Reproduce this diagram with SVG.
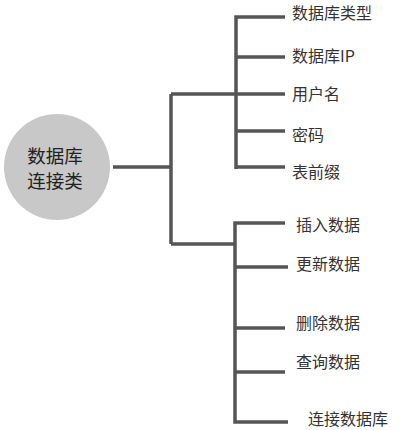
<svg xmlns="http://www.w3.org/2000/svg" width="400" height="430" viewBox="0 0 400 430">
<style>
.c{fill:none;stroke:#555;stroke-width:3.5;stroke-linejoin:miter;stroke-linecap:butt}
.l{font-family:"Noto Sans CJK SC","Noto Sans",sans-serif;font-size:16px;fill:#333;dominant-baseline:central}
.t{font-family:"Noto Sans CJK SC","Noto Sans",sans-serif;font-size:18.5px;fill:#222;text-anchor:middle}
</style>
<rect width="400" height="430" fill="#fff"/>
<g id="connectors">
<path class="c" d="M113 167H171M171 94V244M171 94H285M171 244H236"/>
<path class="c" d="M285 17H236V169M236 57H285M236 131H285M236 167H285"/>
<path class="c" d="M285 223H235V422H288M235 267H288M235 328H285M235 372H285"/>
</g>
<g id="root">
<circle cx="57" cy="167" r="53" fill="#c8c8c8"/>
<text class="t" x="55" y="163">数据库</text>
<text class="t" x="55" y="188">连接类</text>
</g>
<g id="n1"><text class="l" x="292" y="12">数据库类型</text></g>
<g id="n2"><text class="l" x="292" y="55">数据库IP</text></g>
<g id="n3"><text class="l" x="292" y="93">用户名</text></g>
<g id="n4"><text class="l" x="292" y="134">密码</text></g>
<g id="n5"><text class="l" x="292" y="171">表前缀</text></g>
<g id="n6"><text class="l" x="296" y="224">插入数据</text></g>
<g id="n7"><text class="l" x="296" y="263">更新数据</text></g>
<g id="n8"><text class="l" x="296" y="322">删除数据</text></g>
<g id="n9"><text class="l" x="296" y="361">查询数据</text></g>
<g id="n10"><text class="l" x="308" y="418">连接数据库</text></g>
</svg>
